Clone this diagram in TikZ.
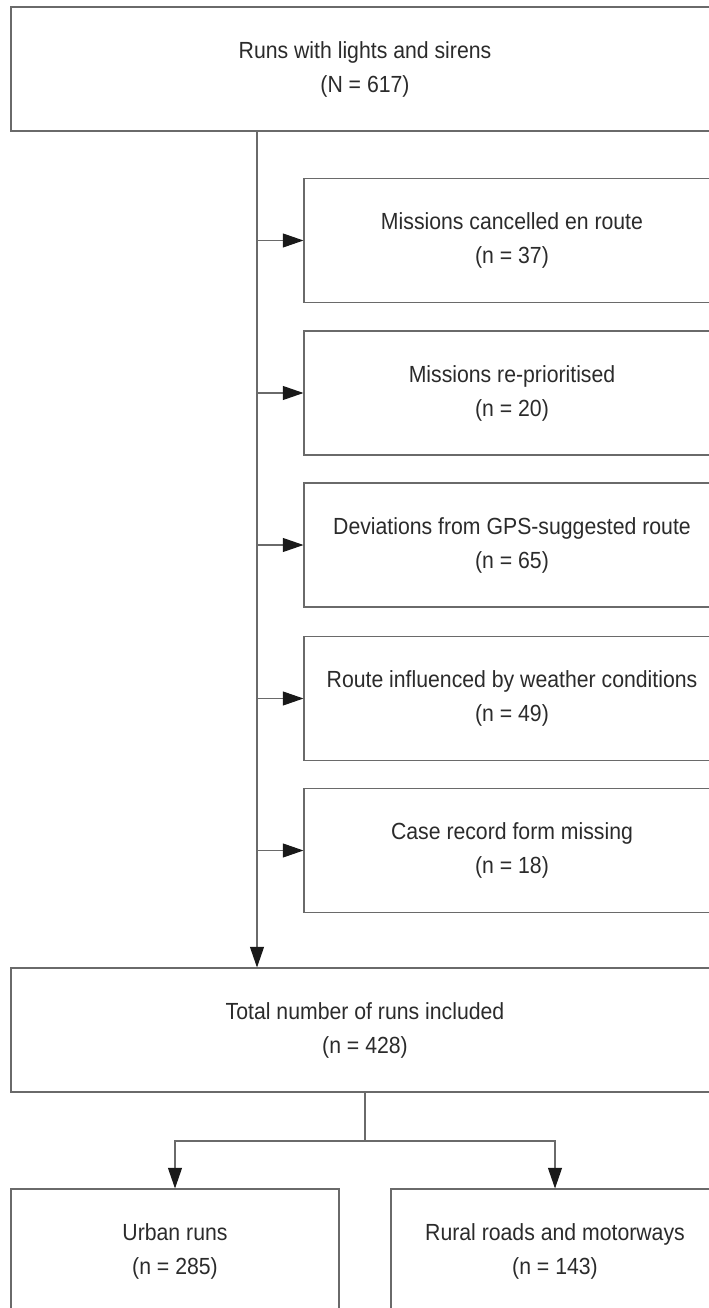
\documentclass[tikz,border=0pt]{standalone}
\usepackage{fontspec}
\setmainfont{Liberation Sans}[FakeStretch=0.91]
\usepackage{xcolor}
\usepackage{tikz}
\usetikzlibrary{
  positioning,
  arrows.meta
}
\definecolor{linegray}{HTML}{6A6A6A}
\definecolor{textgray}{HTML}{2B2B2B}
\tikzset{
  >=Latex,
  flowarrow/.style={-{Triangle[length=15.5pt,width=10.5pt,color=black!90,fill=black!90]},draw=linegray,line width=0.8pt},
  flowline/.style={draw=linegray,line width=0.8pt},
  stagebox/.style={rectangle,draw=linegray,line width=0.8pt,align=center,inner sep=0pt,text=textgray},
  widebox/.style={stagebox,minimum width=531pt,minimum height=93pt},
  excludebox/.style={stagebox,minimum width=312pt,minimum height=93pt},
  splitbox/.style={stagebox,minimum width=246pt,minimum height=93pt}
}

\begin{document}
\begin{tikzpicture}[x=0.75pt,y=-0.75pt,font=\fontsize{17.5pt}{25.5pt}\selectfont]
    \fill[white] (0,0) rectangle (709,1308);
    \clip (0,0) rectangle (709,1308);
    % Ausgangsmenge
    \node[widebox] (runs) at (365,69) {Runs with lights and sirens\\(N = 617)};
    % Ausschluesse
    \foreach \y/\txt/\id in {240.5/Missions cancelled en route\\(n = 37)/1,
                             393/Missions re-prioritised\\(n = 20)/2,
                             545/Deviations from GPS-suggested route\\(n = 65)/3,
                             698.5/Route influenced by weather conditions\\(n = 49)/4,
                             850.5/Case record form missing\\(n = 18)/5}
        \node[excludebox] (ex\id) at (512,\y) {\txt};
    \node[widebox] (total) at (365,1030) {Total number of runs included\\(n = 428)};
    \node[splitbox] (urban) at (175,1251) {Urban runs\\(n = 285)};
    \node[splitbox] (rural) at (555,1251) {Rural roads and motorways\\(n = 143)};

    \coordinate (trunk) at (257,0);
    \draw[flowarrow] (runs.south -| trunk) -- (total.north -| trunk);
    \foreach \id in {1,...,5}
        \draw[flowarrow] (ex\id.west -| trunk) -- (ex\id.west);

    \coordinate (fork) at (365,1141);
    \draw[flowline] (total.south) -- (fork);
    \draw[flowarrow] (fork) -| (urban.north);
    \draw[flowarrow] (fork) -| (rural.north);
\end{tikzpicture}
\end{document}
